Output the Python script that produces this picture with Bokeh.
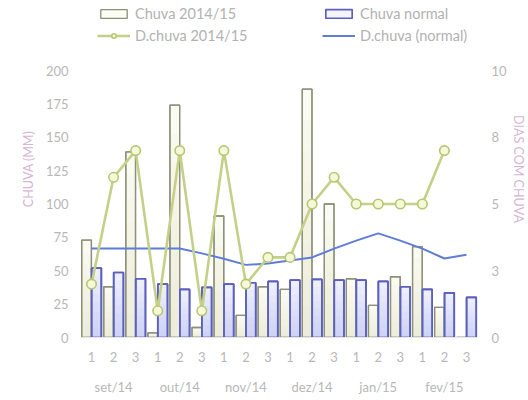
from bokeh.plotting import figure
from bokeh.models import (FactorRange, Range1d, LinearAxis, Legend, LegendItem,
                          FixedTicker, ColumnDataSource)
from bokeh.transform import dodge
from bokeh.embed import file_html
from bokeh.resources import INLINE

months = ["set/14", "out/14", "nov/14", "dez/14", "jan/15", "fev/15"]
decendios = ["1", "2", "3"]
chuva_2014 = [73, 38, 139, 3.5, 174, 7.5, 91, 16.5, 38, 36, 186, 100, 44, 24, 45.5, 68, 22.5, 0]
chuva_normal = [52, 48.7, 44, 40, 36, 37.5, 40, 41, 42, 43, 43.5, 43, 43, 42, 38, 36, 33.5, 30]
dias_2014 = [2, 6, 7, 1, 7, 1, 7, 2, 3, 3, 5, 6, 5, 5, 5, 5, 7, float("nan")]
dias_normal = [3.33, 3.33, 3.33, 3.33, 3.33, 3.15, 2.95, 2.72, 2.77, 2.88, 3.0, 3.33, 3.63, 3.9, 3.63, 3.33, 2.96, 3.1]
left_ticks = [0, 25, 50, 75, 100, 125, 150, 175, 200]
right_ticks = [0, 2.5, 5, 7.5, 10]
right_labels = ["0", "3", "5", "8", "10"]
LEFT_MAX = 200
RIGHT_MAX = 10

# layout (pixels)
W_FIG, H_FIG = 528, 400
B_LEFT, B_RIGHT, B_BOTTOM = 80, 40, 63
PLOT_TOP = 70                       # pixel row of the 200 / 10 level
FRAME_H = H_FIG - B_BOTTOM          # frame spans the full top (legend lives inside)
AXIS_H = FRAME_H - PLOT_TOP
y_end = LEFT_MAX * FRAME_H / AXIS_H
y2_end = RIGHT_MAX * FRAME_H / AXIS_H

factors = [(m, d) for m in months for d in decendios]
N_LAYERS = 8
src = ColumnDataSource(dict(x=factors, c14=chuva_2014, cn=chuva_normal,
                            d14=dias_2014, dn=dias_normal))
for k in range(1, N_LAYERS + 1):
    src.data[f"c14_{k}"] = [v * k / N_LAYERS for v in chuva_2014]
    src.data[f"cn_{k}"] = [v * k / N_LAYERS for v in chuva_normal]

FONT = "Lato"
TICK_COLOR = "#b8b8b8"
TITLE_COLOR = "#d6b6d4"

xr = FactorRange(factors=factors, factor_padding=0, subgroup_padding=0,
                 group_padding=0, range_padding=0)
p = figure(width=W_FIG, height=H_FIG, x_range=xr, y_range=Range1d(0, y_end),
           output_backend="svg", toolbar_location=None,
           min_border_left=B_LEFT, min_border_right=B_RIGHT, min_border_top=0,
           min_border_bottom=B_BOTTOM, outline_line_color=None)
p.extra_y_ranges = {"dias": Range1d(0, y2_end)}
p.xgrid.visible = False
p.ygrid.visible = False

green_x = dodge("x", -0.225, range=p.x_range)
blue_x = dodge("x", 0.225, range=p.x_range)
W = 0.44

g_bar = p.vbar(x=green_x, top="c14", width=W, source=src, fill_color="#fcfdf6",
               line_color="#8e9078", line_width=1.3)
b_bar = p.vbar(x=blue_x, top="cn", width=W, source=src, fill_color="#f4f4fd",
               line_color="#5c5fc0", line_width=1.7)
for k in range(1, N_LAYERS + 1):
    p.vbar(x=green_x, top=f"c14_{k}", width=W, source=src, fill_color="#cddc98",
           fill_alpha=0.045, line_color=None)
    p.vbar(x=blue_x, top=f"cn_{k}", width=W, source=src, fill_color="#a0a2f0",
           fill_alpha=0.06, line_color=None)
p.vbar(x=green_x, top="c14", width=W, source=src, fill_color=None,
       line_color="#8e9078", line_width=1.3)
p.vbar(x=blue_x, top="cn", width=W, source=src, fill_color=None,
       line_color="#5c5fc0", line_width=1.7)

bl = p.line(x="x", y="dn", source=src, y_range_name="dias", line_color="#5f7cd8",
            line_width=2.0)
gl = p.line(x="x", y="d14", source=src, y_range_name="dias", line_color="#c4d088",
            line_width=2.6)
gs = p.scatter(x="x", y="d14", source=src, y_range_name="dias", size=9.5,
               fill_color="#f5f9da", line_color="#b8c670", line_width=1.6)

def style_axis(a, standoff):
    a.axis_line_color = None
    a.major_tick_line_color = None
    a.minor_tick_line_color = None
    a.major_tick_out = 0
    a.major_tick_in = 0
    a.minor_tick_out = 0
    a.minor_tick_in = 0
    a.major_label_text_color = TICK_COLOR
    a.major_label_text_font = FONT
    a.major_label_text_font_size = "13px"
    a.major_label_standoff = standoff

ax = p.xaxis[0]
style_axis(ax, 14)
ax.axis_line_color = "#e6e6e6"
ax.separator_line_color = None
ax.group_text_color = TICK_COLOR
ax.group_text_font = FONT
ax.group_text_font_size = "13px"
ax.group_text_font_style = "normal"

ly = p.yaxis[0]
ly.ticker = FixedTicker(ticks=left_ticks)
ly.bounds = (0, LEFT_MAX)
style_axis(ly, 12)
ly.axis_label = "CHUVA (MM)"
ly.axis_label_text_color = TITLE_COLOR
ly.axis_label_text_font = FONT
ly.axis_label_text_font_size = "12.5px"
ly.axis_label_text_font_style = "normal"
ly.axis_label_standoff = 7

ry = LinearAxis(y_range_name="dias", ticker=FixedTicker(ticks=right_ticks),
                bounds=(0, RIGHT_MAX),
                major_label_overrides={t: l for t, l in zip(right_ticks, right_labels)})
style_axis(ry, 14)
ry.axis_label = "DIAS COM CHUVA"
ry.axis_label_text_color = TITLE_COLOR
ry.axis_label_text_font = FONT
ry.axis_label_text_font_size = "12.5px"
ry.axis_label_text_font_style = "normal"
ry.axis_label_standoff = 1
p.add_layout(ry, "right")

def make_legend(items, loc):
    return Legend(items=items, location=loc, orientation="vertical",
                  background_fill_alpha=0, border_line_color=None,
                  label_text_color="#b2b2b2", label_text_font=FONT,
                  label_text_font_size="14.5px", label_standoff=5,
                  glyph_width=33, glyph_height=11, label_height=15,
                  spacing=5, padding=0, margin=0)

lg1 = make_legend([LegendItem(label="Chuva 2014/15", renderers=[g_bar]),
                   LegendItem(label="D.chuva 2014/15", renderers=[gl, gs])], (17, 293))
lg2 = make_legend([LegendItem(label="Chuva normal", renderers=[b_bar]),
                   LegendItem(label="D.chuva (normal)", renderers=[bl])], (242, 293))
p.add_layout(lg1, "center")
p.add_layout(lg2, "center")

open("out.html", "w").write(file_html(p, INLINE))
